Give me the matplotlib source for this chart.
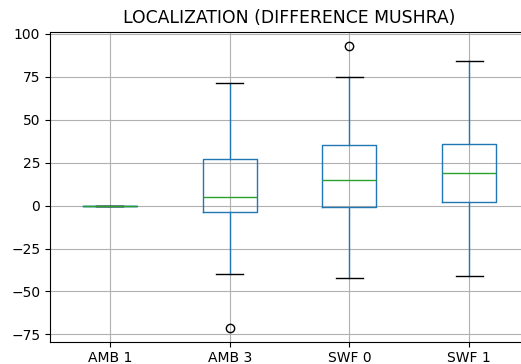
"""Boxplot of localization difference MUSHRA scores."""

import matplotlib

matplotlib.use("Agg")

import matplotlib.pyplot as plt

# per-condition box statistics
labels = ["AMB 1", "AMB 3", "SWF 0", "SWF 1"]
whislo = [0, -40, -42, -41]
q1 = [0, -4, -1, 2]
med = [0, 5, 15, 19]
q3 = [0, 27, 35, 36]
whishi = [0, 71, 75, 84]
fliers = [[], [-71], [93], []]

stats = [
    {"label": lab, "whislo": lo, "q1": a, "med": m, "q3": b, "whishi": hi, "fliers": fl}
    for lab, lo, a, m, b, hi, fl in zip(labels, whislo, q1, med, q3, whishi, fliers)
]

fig = plt.figure(figsize=(5.21, 3.64), dpi=100)
# axes run past the right edge of the canvas, as in the reference
ax = fig.add_axes([50 / 521, 1 - 341.7 / 364, 479 / 521, 310.2 / 364])

ax.bxp(
    stats,
    boxprops=dict(color="#1f77b4"),
    whiskerprops=dict(color="#1f77b4"),
    medianprops=dict(color="#2ca02c"),
    capprops=dict(color="black"),
    flierprops=dict(marker="o", markerfacecolor="none", markeredgecolor="black"),
)
ax.set_xlim(0.5, 4.5)
ax.spines["right"].set_visible(False)
ax.grid(True, color="#b0b0b0", linewidth=0.8)
ax.set_axisbelow(True)
ax.set_title("LOCALIZATION (DIFFERENCE MUSHRA)", fontsize=12.4)

fig.savefig("out.png", dpi=100)
plt.close(fig)
